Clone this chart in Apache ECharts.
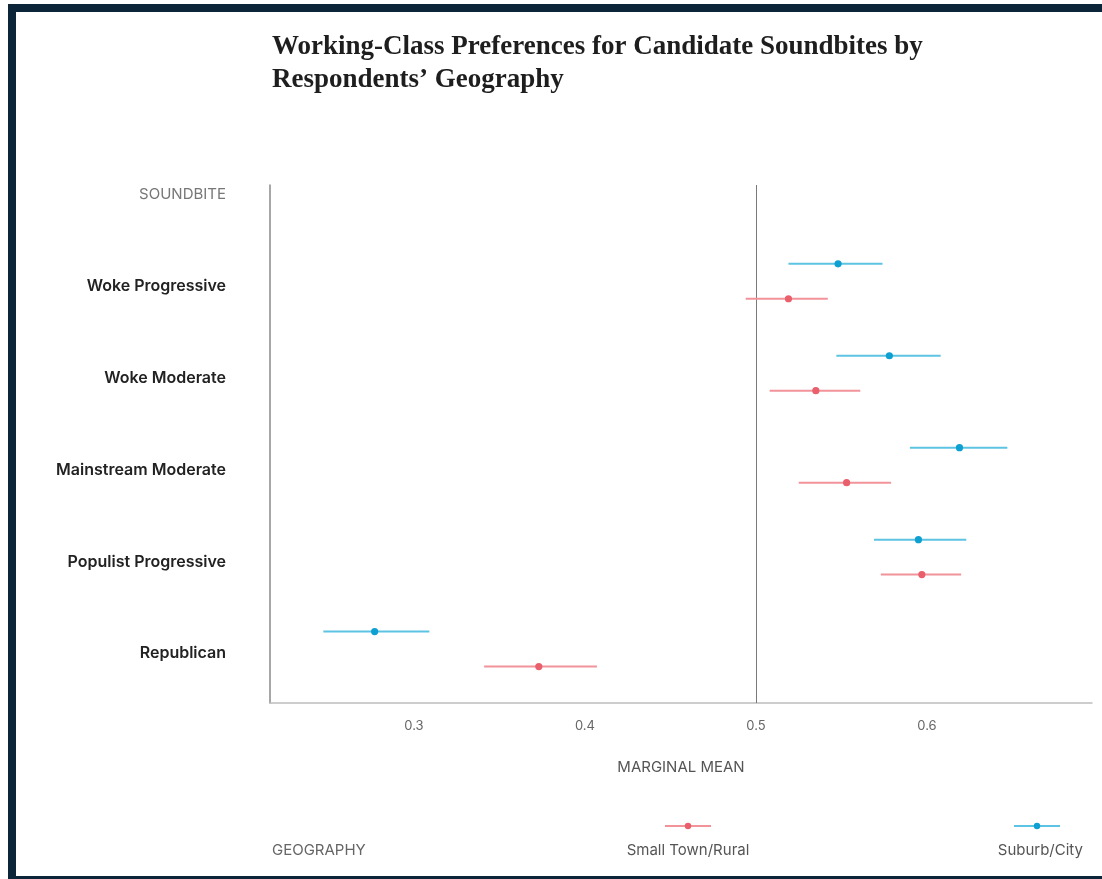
<!DOCTYPE html>
<html>
<head>
<meta charset="utf-8">
<script src="https://cdn.jsdelivr.net/npm/echarts@6/dist/echarts.min.js"></script>
<style>
  html, body { margin: 0; padding: 0; background: #ffffff; }
  #frame {
    position: absolute; left: 8px; top: 4px; width: 1102px; height: 864px;
    border-left: 8px solid #0c2539; border-top: 8px solid #0c2539; border-bottom: 3px solid #0c2539;
  }
  #chart { position: absolute; left: 0; top: 0; width: 1102px; height: 879px; }
</style>
</head>
<body>
<div id="frame"></div>
<div id="chart"></div>
<script>
// ---- data ----
const titleText = 'Working-Class Preferences for Candidate Soundbites by\nRespondents\u2019 Geography';
const categories = ['Republican', 'Populist Progressive', 'Mainstream Moderate', 'Woke Moderate', 'Woke Progressive'];
const yHeader = 'SOUNDBITE';
const xName = 'MARGINAL MEAN';
const legendHeader = 'GEOGRAPHY';
const xTicks = [0.3, 0.4, 0.5, 0.6];
const seriesNames = ['Small Town/Rural', 'Suburb/City'];

const ruralMean = [0.373, 0.597, 0.553, 0.535, 0.519];
const ruralLow  = [0.341, 0.573, 0.525, 0.508, 0.494];
const ruralHigh = [0.407, 0.620, 0.579, 0.561, 0.542];

const cityMean = [0.277, 0.595, 0.619, 0.578, 0.548];
const cityLow  = [0.247, 0.569, 0.590, 0.547, 0.519];
const cityHigh = [0.309, 0.623, 0.647, 0.608, 0.574];

// ---- styles ----
const lineColors = ['#f2939a', '#5cc3e3'];
const dotColors = ['#ea5f6c', '#0fa0d2'];
const yOffsets = [-0.19, 0.19];
const labelShift = -0.05;
const fontSans = 'Inter, "Noto Sans", sans-serif';
const grayFont = '400 15px ' + fontSans;

function buildData(mean, low, high, off) {
  return categories.map((c, i) => [mean[i], low[i], high[i], i + off]);
}
const seriesData = [
  buildData(ruralMean, ruralLow, ruralHigh, yOffsets[0]),
  buildData(cityMean, cityLow, cityHigh, yOffsets[1])
];

function makeRender(k) {
  return function (params, api) {
    const y = api.value(3);
    const a = api.coord([api.value(1), y]);
    const b = api.coord([api.value(2), y]);
    const c = api.coord([api.value(0), y]);
    return {
      type: 'group',
      children: [
        { type: 'line', shape: { x1: a[0], y1: a[1], x2: b[0], y2: b[1] }, style: { stroke: lineColors[k], lineWidth: 2 } },
        { type: 'circle', shape: { cx: c[0], cy: c[1], r: 3.6 }, style: { fill: dotColors[k] } }
      ]
    };
  };
}

const series = seriesNames.map((name, k) => ({
  type: 'custom',
  name: name,
  renderItem: makeRender(k),
  encode: { x: [0, 1, 2], y: 3 },
  data: seriesData[k],
  z: 5,
  markLine: k === 0 ? {
    silent: true, symbol: 'none', label: { show: false },
    lineStyle: { color: '#7a7a7a', width: 1, type: 'solid' },
    data: [{ xAxis: 0.5 }], z: 1
  } : undefined
}));

// legend drawn as graphic (icon above text)
const legendCenters = [688, 1037];
const legendGraphics = [
  { type: 'text', x: 272, y: 850, style: { text: legendHeader, fill: '#666', font: grayFont, align: 'left', verticalAlign: 'middle' } }
];
seriesNames.forEach((name, k) => {
  const cx = legendCenters[k];
  legendGraphics.push({ type: 'line', shape: { x1: cx - 23, y1: 826, x2: cx + 23, y2: 826 }, style: { stroke: lineColors[k], lineWidth: 2 } });
  legendGraphics.push({ type: 'circle', shape: { cx: cx, cy: 826, r: 3.2 }, style: { fill: dotColors[k] } });
});
legendGraphics.push({ type: 'text', x: 688, y: 850, style: { text: seriesNames[0], fill: '#555', font: grayFont, align: 'center', verticalAlign: 'middle' } });
legendGraphics.push({ type: 'text', x: 1083, y: 850, style: { text: seriesNames[1], fill: '#555', font: grayFont, align: 'right', verticalAlign: 'middle' } });

const chart = echarts.init(document.getElementById('chart'), null, { renderer: 'canvas' });
chart.setOption({
  animation: false,
  backgroundColor: 'transparent',
  title: {
    text: titleText,
    left: 267, top: 26,
    textStyle: { fontFamily: '"Liberation Serif", serif', fontWeight: 'bold', fontSize: 27, lineHeight: 33, color: '#1e1e1e' }
  },
  grid: { left: 270, right: 10, top: 185, bottom: 176, containLabel: false },
  xAxis: {
    type: 'value', min: 0.2158, max: 0.6965,
    name: xName, nameLocation: 'middle', nameGap: 57,
    nameTextStyle: { color: '#555', fontFamily: fontSans, fontSize: 15 },
    axisLine: { show: true, onZero: false, lineStyle: { color: '#bdbdbd', width: 1.5 } },
    axisTick: { show: false },
    splitLine: { show: false },
    axisLabel: { customValues: xTicks, color: '#666', fontFamily: fontSans, fontSize: 13, margin: 17, formatter: v => String(v) }
  },
  yAxis: {
    type: 'value', min: -0.5865, max: 5.047,
    name: yHeader, nameLocation: 'end', nameGap: -9,
    nameTextStyle: { color: '#777', fontFamily: fontSans, fontSize: 15, align: 'right', verticalAlign: 'middle', padding: [0, 44, 0, 0] },
    axisLine: { show: true, onZero: false, lineStyle: { color: '#8a8a8a', width: 1.5 } },
    axisTick: { show: false },
    splitLine: { show: false },
    axisLabel: {
      customValues: categories.map((c, i) => i + labelShift),
      formatter: v => categories[Math.round(v)],
      color: '#222', fontFamily: fontSans, fontWeight: 600, fontSize: 16, margin: 44
    }
  },
  graphic: legendGraphics,
  series: series
});
</script>
</body>
</html>
